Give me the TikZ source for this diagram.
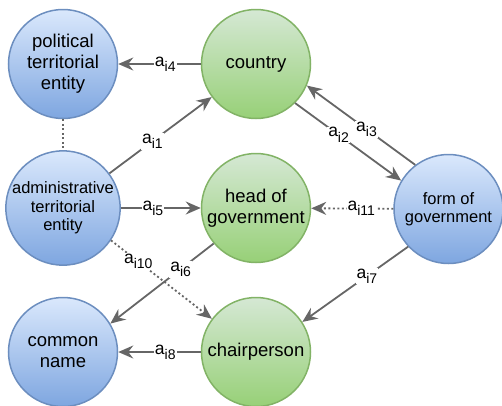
\documentclass[tikz,border=0pt]{standalone}
\usepackage{fontspec}
\setmainfont{Liberation Sans}
\usetikzlibrary{arrows.meta}
\definecolor{btop}{HTML}{DAE8FC}
\definecolor{bbot}{HTML}{7EA6E0}
\definecolor{bstroke}{HTML}{6C8EBF}
\definecolor{gtop}{HTML}{D5E8D4}
\definecolor{gbot}{HTML}{97D077}
\definecolor{gstroke}{HTML}{82B366}
\definecolor{lgray}{HTML}{666666}
\newcommand\alab[1]{a\raisebox{-0.3em}{\fontsize{14}{14}\selectfont i#1}}
\begin{document}
\begin{tikzpicture}[x=1pt,y=-1pt,
  basenode/.style={circle, minimum size=109pt, inner sep=0pt, line width=1.5pt, align=center,
    font=\fontsize{18.5}{21}\selectfont},
  bluenode/.style={basenode, draw=bstroke, top color=btop, bottom color=bbot},
  greennode/.style={basenode, draw=gstroke, top color=gtop, bottom color=gbot},
  smalltext/.style={font=\fontsize{16.5}{18.5}\selectfont},
  conn/.style={draw=lgray, line width=1.8pt, -{Stealth[length=15pt,width=13pt,inset=5pt]}},
  dotconn/.style={conn, dash pattern=on 2pt off 2.5pt},
  dotline/.style={draw=lgray, line width=1.8pt, dash pattern=on 2pt off 2.5pt},
  lbl/.style={fill=white, inner sep=1pt, font=\fontsize{17.5}{17.5}\selectfont}]
\useasboundingbox (0,0) rectangle (502,405);
\node[bluenode] (pol) at (63,64) {political\\territorial\\entity};
\node[greennode] (cou) at (256,64) {country};
\node[bluenode, smalltext] (adm) at (63,208) {administrative\\territorial\\entity};
\node[greennode] (hog) at (256,208) {head of\\government};
\node[bluenode, smalltext] (fog) at (448.5,209) {form of\\government};
\node[bluenode] (cn) at (63,352) {common\\name};
\node[greennode] (ch) at (256,352) {chairperson};

\draw[dotline] (pol) -- (adm);
\draw[conn] (cou) -- node[lbl,pos=0.43]{\alab{4}} (pol);
\draw[conn] (adm) -- node[lbl,pos=0.42]{\alab{1}} (cou);
\draw[conn] (cou.-45) -- node[lbl,pos=0.41]{\alab{2}} (fog.149);
\draw[conn] (fog.127) -- node[lbl,pos=0.45]{\alab{3}} (cou.-23);
\draw[conn] (adm) -- node[lbl,pos=0.4]{\alab{5}} (hog);
\draw[dotconn] (fog) -- node[lbl,pos=0.39]{\alab{11}} (hog);
\draw[conn] (hog.220.7) -- node[lbl,pos=0.32]{\alab{6}} (cn.31.7);
\draw[dotconn] (adm.-34) -- node[lbl,pos=0.27]{\alab{10}} (ch.143.5);
\draw[conn] (fog.223) -- node[lbl,pos=0.39]{\alab{7}} (ch.33);
\draw[conn] (ch) -- node[lbl,pos=0.43]{\alab{8}} (cn);
\end{tikzpicture}
\end{document}
